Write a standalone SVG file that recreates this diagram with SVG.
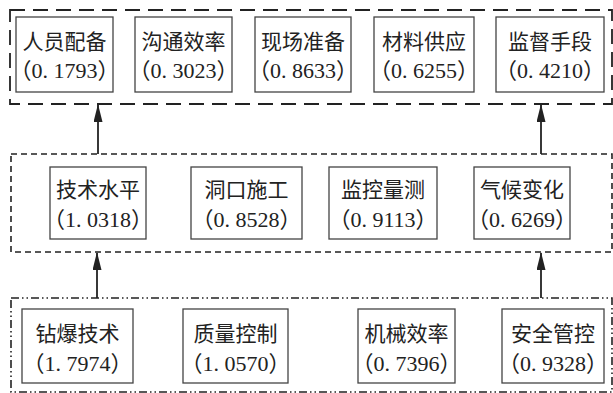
<svg xmlns="http://www.w3.org/2000/svg" width="613" height="393" viewBox="0 0 613 393">
<style>
.bg{fill:#fff}
.box{fill:#fff;stroke:#444;stroke-width:1.3}
.g1{fill:none;stroke:#222;stroke-width:1.8;stroke-dasharray:15 8}
.g2{fill:none;stroke:#222;stroke-width:1.6;stroke-dasharray:6 4}
.g3{fill:none;stroke:#222;stroke-width:1.6;stroke-dasharray:8 3 1.5 3 1.5 3}
.t{font-family:"Liberation Serif","Noto Sans CJK SC",serif;font-size:21px;fill:#222;text-anchor:middle}
.n{font-family:"Liberation Serif","Noto Sans CJK SC",serif;font-size:22px;fill:#222;text-anchor:middle}
.c{stroke:#222;stroke-width:1.8;fill:none}
</style>
<defs>
<marker id="ah" markerWidth="18" markerHeight="9" refX="17" refY="4.5" orient="auto" markerUnits="userSpaceOnUse" viewBox="0 0 18 9">
<path d="M0,0 L18,4.5 L0,9 Z" fill="#222"/>
</marker>
</defs>
<rect class="bg" x="0" y="0" width="613" height="393"/>
<g id="layer-top">
<rect class="g1" x="10" y="10" width="602" height="94"/>
</g>
<g id="layer-mid">
<rect class="g2" x="11" y="154" width="601" height="98"/>
</g>
<g id="layer-bottom">
<rect class="g3" x="11" y="298" width="601" height="94"/>
</g>
<g id="n1"><rect class="box" x="16" y="17" width="97" height="75"/><text class="t" x="64.5" y="49">人员配备</text><text class="n" x="64.5" y="78">（0. 1793）</text></g>
<g id="n2"><rect class="box" x="135" y="17" width="97" height="75"/><text class="t" x="183.5" y="49">沟通效率</text><text class="n" x="183.5" y="78">（0. 3023）</text></g>
<g id="n3"><rect class="box" x="255" y="17" width="96" height="75"/><text class="t" x="303" y="49">现场准备</text><text class="n" x="303" y="78">（0. 8633）</text></g>
<g id="n4"><rect class="box" x="374" y="17" width="100" height="75"/><text class="t" x="424" y="49">材料供应</text><text class="n" x="424" y="78">（0. 6255）</text></g>
<g id="n5"><rect class="box" x="496" y="17" width="108" height="75"/><text class="t" x="550" y="49">监督手段</text><text class="n" x="550" y="78">（0. 4210）</text></g>
<g id="m1"><rect class="box" x="50" y="167" width="96" height="72"/><text class="t" x="98" y="197">技术水平</text><text class="n" x="98" y="227">（1. 0318）</text></g>
<g id="m2"><rect class="box" x="191" y="167" width="111" height="72"/><text class="t" x="246.5" y="197">洞口施工</text><text class="n" x="246.5" y="227">（0. 8528）</text></g>
<g id="m3"><rect class="box" x="329" y="167" width="108" height="72"/><text class="t" x="383" y="197">监控量测</text><text class="n" x="383" y="227">（0. 9113）</text></g>
<g id="m4"><rect class="box" x="474" y="167" width="96" height="72"/><text class="t" x="522" y="197">气候变化</text><text class="n" x="522" y="227">（0. 6269）</text></g>
<g id="b1"><rect class="box" x="22" y="309" width="111" height="74"/><text class="t" x="77.5" y="341">钻爆技术</text><text class="n" x="77.5" y="371">（1. 7974）</text></g>
<g id="b2"><rect class="box" x="183" y="309" width="105" height="74"/><text class="t" x="235.5" y="341">质量控制</text><text class="n" x="235.5" y="371">（1. 0570）</text></g>
<g id="b3"><rect class="box" x="358" y="309" width="97" height="74"/><text class="t" x="406.5" y="341">机械效率</text><text class="n" x="406.5" y="371">（0. 7396）</text></g>
<g id="b4"><rect class="box" x="502" y="309" width="102" height="74"/><text class="t" x="553" y="341">安全管控</text><text class="n" x="553" y="371">（0. 9328）</text></g>
<g id="connectors">
<line class="c" x1="98" y1="154" x2="98" y2="105" marker-end="url(#ah)"/>
<line class="c" x1="541" y1="154" x2="541" y2="105" marker-end="url(#ah)"/>
<line class="c" x1="97" y1="298" x2="97" y2="253" marker-end="url(#ah)"/>
<line class="c" x1="541" y1="298" x2="541" y2="253" marker-end="url(#ah)"/>
</g>
</svg>
